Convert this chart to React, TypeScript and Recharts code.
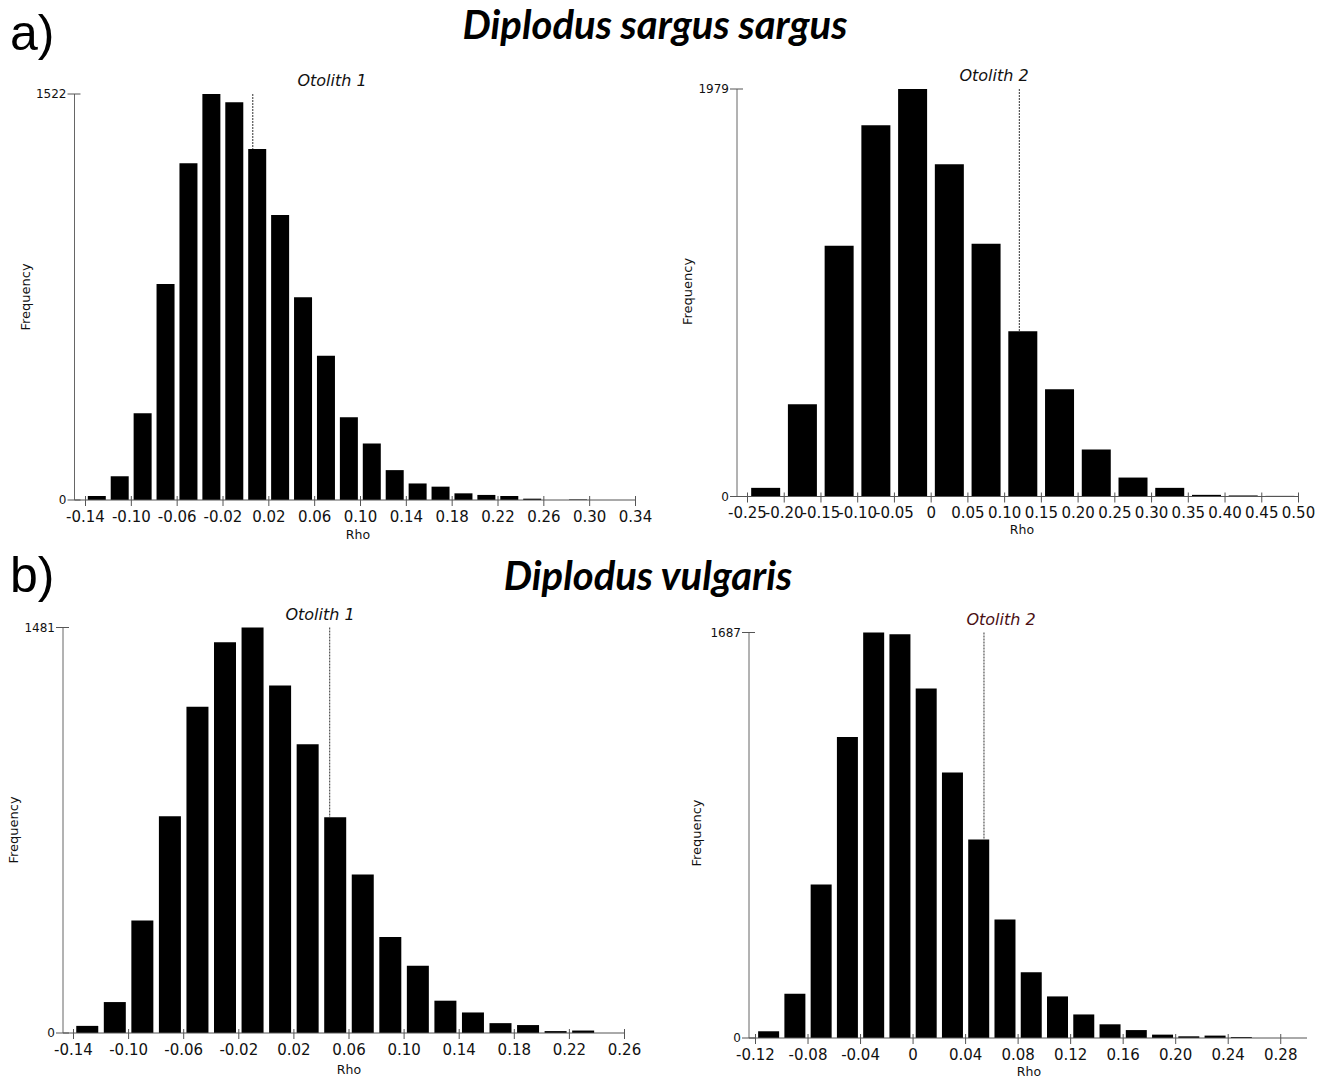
import React from "react"
import { Bar, BarChart, ReferenceLine, XAxis, YAxis } from "recharts"

// Diplodus sargus sargus, otolith 1 (bin width 0.02)
const a1Lower = [-0.14, -0.12, -0.1, -0.08, -0.06, -0.04, -0.02, 0, 0.02, 0.04, 0.06, 0.08, 0.1, 0.12, 0.14, 0.16, 0.18, 0.2, 0.22, 0.24, 0.26, 0.28, 0.3, 0.32]
const a1Counts = [15, 89, 325, 810, 1262, 1522, 1491, 1316, 1068, 760, 541, 310, 212, 112, 62, 50, 25, 19, 15, 5, 0, 2, 0, 0]
const a1Ticks = [-0.14, -0.1, -0.06, -0.02, 0.02, 0.06, 0.1, 0.14, 0.18, 0.22, 0.26, 0.3, 0.34]
const a1Observed = 0.006

// Diplodus sargus sargus, otolith 2 (bin width 0.05)
const a2Lower = [-0.25, -0.2, -0.15, -0.1, -0.05, 0, 0.05, 0.1, 0.15, 0.2, 0.25, 0.3, 0.35, 0.4, 0.45]
const a2Counts = [42, 448, 1218, 1803, 1979, 1613, 1228, 803, 521, 228, 92, 42, 8, 5, 3]
const a2Ticks = [-0.25, -0.2, -0.15, -0.1, -0.05, 0, 0.05, 0.1, 0.15, 0.2, 0.25, 0.3, 0.35, 0.4, 0.45, 0.5]
const a2Observed = 0.12

// Diplodus vulgaris, otolith 1 (bin width 0.02)
const b1Lower = [-0.14, -0.12, -0.1, -0.08, -0.06, -0.04, -0.02, 0, 0.02, 0.04, 0.06, 0.08, 0.1, 0.12, 0.14, 0.16, 0.18, 0.2, 0.22, 0.24]
const b1Counts = [26, 113, 411, 792, 1192, 1427, 1481, 1269, 1055, 788, 579, 351, 246, 118, 75, 36, 29, 7, 9, 0]
const b1Ticks = [-0.14, -0.1, -0.06, -0.02, 0.02, 0.06, 0.1, 0.14, 0.18, 0.22, 0.26]
const b1Observed = 0.046

// Diplodus vulgaris, otolith 2 (bin width 0.02)
const b2Lower = [-0.12, -0.1, -0.08, -0.06, -0.04, -0.02, 0, 0.02, 0.04, 0.06, 0.08, 0.1, 0.12, 0.14, 0.16, 0.18, 0.2, 0.22, 0.24, 0.26, 0.28]
const b2Counts = [28, 184, 639, 1252, 1687, 1680, 1454, 1105, 826, 493, 274, 173, 98, 57, 33, 14, 7, 10, 4, 0, 0]
const b2Ticks = [-0.12, -0.08, -0.04, 0, 0.04, 0.08, 0.12, 0.16, 0.2, 0.24, 0.28]
const b2Observed = 0.054

const TICK_FONT = "'DejaVu Sans', sans-serif"
const Y_W = 60

interface PanelProps {
  lower: number[]
  counts: number[]
  binWidth: number
  ticks: number[]
  domain: [number, number]
  observed: number
  title: string
  titleColor?: string
  box: { x: number; y: number; w: number; h: number }
  axisX: number
  x0: number
  x1: number
  yTop: number
  yZero: number
  tickBase: number
  rho: [number, number]
  freq: [number, number]
  titlePos: [number, number]
}

function fmt(v: number): string {
  if (Math.abs(v) < 1e-9) return "0"
  return v.toFixed(2)
}

function Histogram(p: PanelProps) {
  const data = p.lower.map((lo, i) => ({ bin: i, mid: lo + p.binWidth / 2, count: p.counts[i] }))
  const yMax = Math.max(...p.counts)
  const hit = p.lower.findIndex(lo => p.observed >= lo && p.observed < lo + p.binWidth)
  const hitCount = hit >= 0 ? p.counts[hit] : 0

  const marginLeft = p.axisX - p.box.x - Y_W
  const padLeft = p.x0 - p.axisX
  const marginRight = p.box.x + p.box.w - p.x1
  const marginTop = p.yTop - p.box.y
  const xHeight = p.box.y + p.box.h - p.yZero - 2

  const XTick = (props: any) => {
    const { x, y, payload } = props
    return (
      <g>
        <line x1={x} x2={x} y1={y - 4} y2={y + 6} stroke="#555" />
        <text x={x} y={y + p.tickBase} textAnchor="middle" fontSize={15} fontFamily={TICK_FONT} fill="#111">
          {fmt(payload.value)}
        </text>
      </g>
    )
  }

  const YTick = (props: any) => {
    const { x, y, payload } = props
    return (
      <g>
        <line x1={x - 7} x2={x + 6} y1={y} y2={y} stroke="#555" />
        <text x={x - 8} y={y + 4} textAnchor="end" fontSize={12} fontFamily={TICK_FONT} fill="#111">
          {payload.value}
        </text>
      </g>
    )
  }

  const bx = p.box.x
  const by = p.box.y

  return (
    <div style={{ position: "absolute", left: p.box.x, top: p.box.y, width: p.box.w, height: p.box.h }}>
      <BarChart
        width={p.box.w}
        height={p.box.h}
        data={data}
        margin={{ top: marginTop, right: marginRight, left: marginLeft, bottom: 2 }}
        barCategoryGap="10%"
      >
        <XAxis xAxisId="bins" dataKey="bin" type="category" hide height={0} padding={{ left: padLeft, right: 0 }} />
        <XAxis
          xAxisId="rho"
          dataKey="mid"
          type="number"
          domain={p.domain}
          ticks={p.ticks}
          interval={0}
          allowDataOverflow
          padding={{ left: padLeft, right: 0 }}
          height={xHeight}
          tickSize={0}
          tickMargin={0}
          tickLine={false}
          axisLine={{ stroke: "#555" }}
          tick={XTick}
          label={{
            content: () => (
              <text x={p.rho[0] - bx} y={p.rho[1] - by + 4} textAnchor="middle" fontSize={12.5} fontFamily={TICK_FONT} fill="#111">
                Rho
              </text>
            )
          }}
        />
        <YAxis
          width={Y_W}
          domain={[0, yMax]}
          ticks={[0, yMax]}
          interval={0}
          tickSize={0}
          tickMargin={0}
          tickLine={false}
          axisLine={{ stroke: "#666" }}
          tick={YTick}
          label={{
            content: () => (
              <text
                x={p.freq[0] - bx}
                y={p.freq[1] - by}
                transform={`rotate(-90 ${p.freq[0] - bx} ${p.freq[1] - by})`}
                textAnchor="middle"
                dominantBaseline="central"
                fontSize={13}
                fontFamily={TICK_FONT}
                fill="#111"
              >
                Frequency
              </text>
            )
          }}
        />
        <ReferenceLine
          xAxisId="rho"
          segment={[
            { x: p.observed, y: yMax },
            { x: p.observed, y: hitCount }
          ]}
          stroke="#333"
          strokeWidth={1}
          strokeDasharray="2 1"
        />
        <Bar xAxisId="bins" dataKey="count" fill="#000" isAnimationActive={false} />
      </BarChart>
      <div
        style={{
          position: "absolute",
          left: p.titlePos[0] - bx - 100,
          top: p.titlePos[1] - by - 11,
          width: 200,
          textAlign: "center",
          fontFamily: TICK_FONT,
          fontStyle: "italic",
          fontSize: 16,
          lineHeight: "22px",
          color: p.titleColor || "#111"
        }}
      >
        {p.title}
      </div>
    </div>
  )
}

export default function App() {
  return (
    <div style={{ position: "absolute", left: 0, top: 0, width: 1321, height: 1079, background: "#fff", overflow: "hidden" }}>
      <svg width={1321} height={1079} style={{ position: "absolute", left: 0, top: 0 }}>
        <text x={10} y={50} fontSize={50} fontFamily="'Liberation Sans', Arial, sans-serif" fill="#000">a)</text>
        <text x={655} y={39} textAnchor="middle" fontSize={40} fontWeight="bold" fontStyle="italic" fontFamily="Lato, sans-serif" fill="#000">
          Diplodus sargus sargus
        </text>
        <text x={10} y={592} fontSize={50} fontFamily="'Liberation Sans', Arial, sans-serif" fill="#000">b)</text>
        <text x={648} y={590} textAnchor="middle" fontSize={40} fontWeight="bold" fontStyle="italic" fontFamily="Lato, sans-serif" fill="#000">
          Diplodus vulgaris
        </text>
      </svg>
      <Histogram
        lower={a1Lower}
        counts={a1Counts}
        binWidth={0.02}
        ticks={a1Ticks}
        domain={[-0.14, 0.34]}
        observed={a1Observed}
        title="Otolith 1"
        box={{ x: 0, y: 60, w: 660, h: 490 }}
        axisX={74.5}
        x0={85.5}
        x1={635.5}
        yTop={94}
        yZero={500}
        tickBase={22}
        rho={[358, 535]}
        freq={[25, 297]}
        titlePos={[332, 81]}
      />
      <Histogram
        lower={a2Lower}
        counts={a2Counts}
        binWidth={0.05}
        ticks={a2Ticks}
        domain={[-0.25, 0.5]}
        observed={a2Observed}
        title="Otolith 2"
        box={{ x: 660, y: 60, w: 661, h: 490 }}
        axisX={737}
        x0={747.5}
        x1={1298.5}
        yTop={89}
        yZero={496.5}
        tickBase={21.5}
        rho={[1022, 530]}
        freq={[687.5, 291.5]}
        titlePos={[994, 76]}
      />
      <Histogram
        lower={b1Lower}
        counts={b1Counts}
        binWidth={0.02}
        ticks={b1Ticks}
        domain={[-0.14, 0.26]}
        observed={b1Observed}
        title="Otolith 1"
        box={{ x: 0, y: 590, w: 660, h: 489 }}
        axisX={63}
        x0={73.5}
        x1={624.5}
        yTop={627.5}
        yZero={1033}
        tickBase={22}
        rho={[349, 1070]}
        freq={[13, 830]}
        titlePos={[320, 615]}
      />
      <Histogram
        lower={b2Lower}
        counts={b2Counts}
        binWidth={0.02}
        ticks={b2Ticks}
        domain={[-0.12, 0.3]}
        observed={b2Observed}
        title="Otolith 2"
        titleColor="#4a1014"
        box={{ x: 660, y: 590, w: 661, h: 489 }}
        axisX={749}
        x0={755.5}
        x1={1307}
        yTop={632.5}
        yZero={1038}
        tickBase={21.5}
        rho={[1029, 1072]}
        freq={[696, 833]}
        titlePos={[1001, 620]}
      />
    </div>
  )
}
